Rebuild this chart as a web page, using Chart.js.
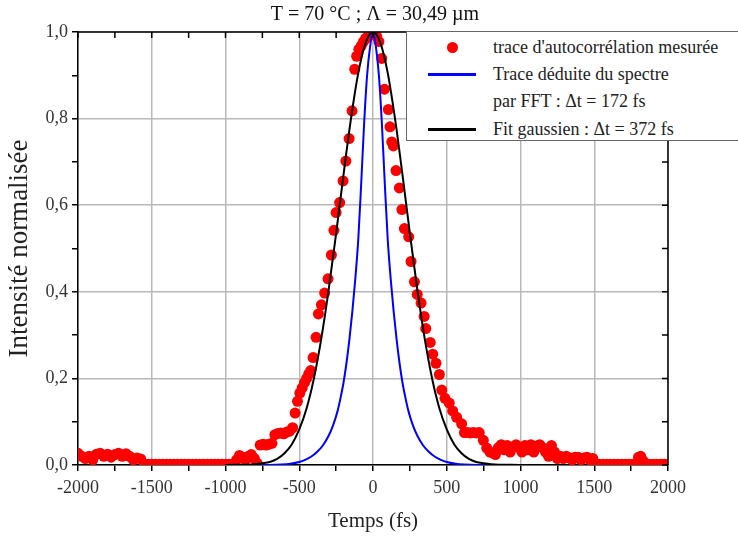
<!DOCTYPE html>
<html>
<head>
<meta charset="utf-8">
<script src="https://cdn.jsdelivr.net/npm/chart.js@4.4.1/dist/chart.umd.min.js"></script>
<style>
  body { margin: 0; background: #fff; }
  #wrap { position: relative; width: 738px; height: 540px; overflow: hidden; }
  #legend {
    position: absolute; left: 406px; top: 31px; width: 345px; height: 110px;
    background: #fff; border: 1px solid #666; box-sizing: border-box;
    font-family: "Liberation Serif", serif; font-size: 18px; color: #222;
  }
  #legend .row { position: absolute; left: 0; height: 24px; line-height: 24px; white-space: nowrap; }
  #legend .txt { position: absolute; left: 86px; }
  #legend .mk { position: absolute; }
</style>
</head>
<body>
<div id="wrap">
  <canvas id="chart" width="738" height="540"></canvas>
  <div id="legend"></div>
</div>
<script>
// mesures (points rouges)
const measTime = [
  -2000, -1975, -1950, -1925, -1900, -1875, -1850, -1825, -1800, -1775, -1750, -1725, -1700, -1675, -1650, -1625, -1600, -1575,
  -1550, -1525, -1500, -1475, -1450, -1425, -1400, -1375, -1350, -1325, -1300, -1275, -1250, -1225, -1200, -1175, -1150, -1125,
  -1100, -1075, -1050, -1025, -1000, -975, -950,
  -925, -905, -885, -865, -845, -825, -805, -785, -765, -745, -725, -705, -685, -665, -645, -625, -605, -585, -565, -545,
  -528, -512, -496, -480, -465, -450, -436, -422, -406, -386, -370, -350, -328, -305, -282, -265, -250, -226, -203, -184,
  -162, -142, -124, -111, -96, -80, -66, -50, -35, -20, -5,
  10, 25, 40, 59, 78, 104, 115, 127, 138, 156, 179, 196, 213, 242, 258, 281, 300, 326, 347, 358, 388, 405, 427, 450, 466,
  488, 517, 540, 567, 601, 620, 640, 660, 680, 700, 720, 748, 771, 793, 810,
  830, 850, 870, 890, 910, 930, 950, 970, 990, 1010, 1030, 1050, 1070, 1090, 1110, 1130, 1150, 1170, 1190, 1210, 1230,
  1250, 1270, 1290, 1310, 1330, 1350, 1370, 1390, 1410, 1430, 1450, 1470, 1490,
  1510, 1535, 1560, 1585, 1610, 1635, 1660, 1685, 1710, 1735, 1760, 1785, 1800, 1815, 1830, 1850, 1875, 1900, 1925, 1950,
  1975, 2000
];
const measIntensity = [
  0.027, 0.02, 0.015, 0.02, 0.012, 0.025, 0.027, 0.02, 0.025, 0.018, 0.024, 0.027, 0.02, 0.026, 0.02, 0.012, 0.016, 0.014,
  0.002, 0.002, 0.002, 0.002, 0.002, 0.002, 0.002, 0.002, 0.002, 0.002, 0.002, 0.002, 0.002, 0.002, 0.002, 0.002, 0.002, 0.002,
  0.002, 0.002, 0.002, 0.002, 0.002, 0.002, 0.002,
  0.012, 0.022, 0.018, 0.012, 0.02, 0.024, 0.015, 0.004, 0.046, 0.048, 0.046, 0.048, 0.05, 0.07, 0.073, 0.074, 0.072, 0.076, 0.078, 0.086,
  0.12, 0.147, 0.166, 0.178, 0.19, 0.2, 0.21, 0.218, 0.248, 0.295, 0.349, 0.37, 0.397, 0.43, 0.485, 0.542, 0.583, 0.606, 0.656, 0.702,
  0.754, 0.818, 0.914, 0.944, 0.96, 0.968, 0.977, 0.985, 0.99, 0.995, 1.0,
  0.997, 0.99, 0.978, 0.939, 0.868, 0.821, 0.781, 0.746, 0.737, 0.68, 0.64, 0.59, 0.546, 0.527, 0.47, 0.423, 0.394, 0.374, 0.343, 0.315, 0.283, 0.256, 0.235, 0.209, 0.173,
  0.154, 0.143, 0.125, 0.11, 0.095, 0.075, 0.075, 0.074, 0.075, 0.074, 0.075, 0.057, 0.039, 0.03, 0.028,
  0.024, 0.04, 0.047, 0.035, 0.045, 0.03, 0.042, 0.047, 0.04, 0.03, 0.045, 0.035, 0.047, 0.03, 0.044, 0.047, 0.04, 0.03, 0.02, 0.045, 0.03,
  0.015, 0.02, 0.015, 0.02, 0.017, 0.012, 0.018, 0.018, 0.012, 0.016, 0.018, 0.012, 0.015,
  0.002, 0.002, 0.002, 0.002, 0.002, 0.002, 0.002, 0.002, 0.002, 0.002, 0.002, 0.002, 0.018, 0.02, 0.01, 0.002, 0.002, 0.002, 0.002, 0.002,
  0.002, 0.002
];

// trace deduite du spectre (FFT)
const fftTime = [-800, -700, -620, -560, -500, -460, -420, -380, -340, -300, -270, -240, -220, -200, -180, -160, -140, -120, -100, -80, -60, -40, -20,
  0, 20, 40, 60, 80, 100, 120, 140, 160, 180, 200, 220, 240, 270, 300, 340, 380, 420, 460, 500, 560, 620, 700, 800];
const fftIntensity = [0, 0, 0.001, 0.003, 0.007, 0.012, 0.019, 0.03, 0.045, 0.068, 0.092, 0.125, 0.155, 0.19, 0.235, 0.29, 0.355, 0.43, 0.52, 0.65, 0.79, 0.9, 0.965,
  1.0, 0.965, 0.9, 0.79, 0.65, 0.52, 0.43, 0.355, 0.29, 0.235, 0.19, 0.155, 0.125, 0.092, 0.068, 0.045, 0.03, 0.019, 0.012, 0.007, 0.003, 0.001, 0, 0];

// fit gaussien
const fitTime = [-1000, -800, -750, -700, -650, -600, -550, -500, -450, -400, -350, -300, -250, -200, -150, -100, -50,
  0, 50, 100, 150, 200, 250, 300, 350, 400, 450, 500, 550, 600, 650, 700, 750, 800, 1000];
const fitIntensity = [0, 0.002, 0.004, 0.007, 0.014, 0.027, 0.048, 0.082, 0.131, 0.201, 0.293, 0.406, 0.535, 0.67, 0.798, 0.905, 0.975,
  1.0, 0.975, 0.905, 0.798, 0.67, 0.535, 0.406, 0.293, 0.201, 0.131, 0.082, 0.048, 0.027, 0.014, 0.007, 0.004, 0.002, 0];

const xTicks = { min: -2000, max: 2000, step: 250 };
const yTicks = { min: 0, max: 1, step: 0.1 };

const titleText = 'T = 70 °C ; Λ = 30,49 µm';
const serif = '"Liberation Serif", serif';

function pairs(xs, ys) {
  return xs.map((x, i) => ({ x: x, y: ys[i] }));
}

// cadre haut/droite avec graduations vers l'interieur + titre centre sur la zone de trace
const frameTicks = {
  id: 'frameTicks',
  afterDraw(chart) {
    const { ctx, chartArea: a, scales: { x, y } } = chart;
    ctx.save();
    ctx.strokeStyle = '#000';
    ctx.lineWidth = 1.5;
    ctx.beginPath();
    ctx.moveTo(a.left, a.top);
    ctx.lineTo(a.right, a.top);
    ctx.lineTo(a.right, a.bottom);
    y.ticks.forEach(t => {
      const py = y.getPixelForValue(t.value);
      ctx.moveTo(a.right, py);
      ctx.lineTo(a.right - 6, py);
    });
    x.ticks.forEach(t => {
      const px = x.getPixelForValue(t.value);
      ctx.moveTo(px, a.top);
      ctx.lineTo(px, a.top + 6);
    });
    ctx.stroke();

    ctx.fillStyle = '#111';
    ctx.font = '20px ' + serif;
    ctx.textAlign = 'center';
    ctx.textBaseline = 'middle';
    ctx.fillText(titleText, (a.left + a.right) / 2 + 2, 15);
    ctx.restore();
  }
};

const chart = new Chart(document.getElementById('chart'), {
  type: 'scatter',
  data: {
    datasets: [
      {
        label: "trace d'autocorrélation mesurée",
        data: pairs(measTime, measIntensity),
        pointRadius: 5.5,
        pointBackgroundColor: '#ff0000',
        pointBorderWidth: 0,
        borderColor: '#ff0000',
        clip: 0,
        order: 3
      },
      {
        label: ['Trace déduite du spectre', 'par FFT : Δt = 172 fs'],
        data: pairs(fftTime, fftIntensity),
        showLine: true,
        pointRadius: 0,
        borderColor: '#0000ff',
        borderWidth: 2,
        cubicInterpolationMode: 'monotone',
        order: 2
      },
      {
        label: 'Fit gaussien : Δt = 372 fs',
        data: pairs(fitTime, fitIntensity),
        showLine: true,
        pointRadius: 0,
        borderColor: '#000000',
        borderWidth: 2,
        cubicInterpolationMode: 'monotone',
        order: 1
      }
    ]
  },
  options: {
    responsive: false,
    animation: false,
    layout: { padding: { top: 32, right: 70 } },
    plugins: {
      legend: { display: false },
      tooltip: { enabled: false },
      title: { display: false }
    },
    scales: {
      x: {
        type: 'linear',
        min: xTicks.min,
        max: xTicks.max,
        afterFit: s => { s.height = 75; },
        border: { color: '#000', width: 1.5 },
        grid: {
          color: c => (c.tick && c.tick.value % 500 === 0) ? '#b8b8b8' : 'rgba(0,0,0,0)',
          lineWidth: 1.5,
          tickColor: '#000',
          tickLength: 6,
          tickWidth: 1.5
        },
        ticks: {
          stepSize: xTicks.step,
          autoSkip: false,
          maxRotation: 0,
          padding: 6,
          color: '#333',
          font: { family: serif, size: 18 },
          callback: v => (v % 500 === 0 ? String(v) : '')
        },
        title: {
          display: true,
          text: 'Temps (fs)',
          color: '#222',
          font: { family: serif, size: 21 },
          padding: { top: 0, bottom: 6 }
        }
      },
      y: {
        min: yTicks.min,
        max: yTicks.max,
        afterFit: s => { s.width = 78; },
        border: { color: '#000', width: 1.5 },
        grid: {
          color: c => (c.tick && Math.round(c.tick.value * 10) % 2 === 0) ? '#b8b8b8' : 'rgba(0,0,0,0)',
          lineWidth: 1.5,
          tickColor: '#000',
          tickLength: 6,
          tickWidth: 1.5
        },
        ticks: {
          stepSize: yTicks.step,
          autoSkip: false,
          padding: 4,
          color: '#333',
          font: { family: serif, size: 18 },
          callback: v => (Math.round(v * 10) % 2 === 0 ? v.toFixed(1).replace('.', ',') : '')
        },
        title: {
          display: true,
          text: 'Intensité normalisée',
          color: '#222',
          font: { family: serif, size: 27 },
          padding: { top: 4, bottom: 0 }
        }
      }
    }
  },
  plugins: [frameTicks]
});

// legende html construite depuis les jeux de donnees
const legendBox = document.getElementById('legend');
const rowTops = [[3], [30, 57], [85]];
chart.data.datasets.forEach((ds, i) => {
  const lines = Array.isArray(ds.label) ? ds.label : [ds.label];
  lines.forEach((line, j) => {
    const row = document.createElement('div');
    row.className = 'row';
    row.style.top = rowTops[i][j] + 'px';
    if (j === 0) {
      const mk = document.createElement('div');
      mk.className = 'mk';
      if (i === 0) {
        Object.assign(mk.style, { left: '40px', top: '7px', width: '11px', height: '11px', borderRadius: '50%', background: ds.pointBackgroundColor });
      } else {
        Object.assign(mk.style, { left: '21px', top: '11px', width: '48px', height: '2.5px', background: ds.borderColor });
      }
      row.appendChild(mk);
    }
    const txt = document.createElement('span');
    txt.className = 'txt';
    txt.textContent = line;
    row.appendChild(txt);
    legendBox.appendChild(row);
  });
});
</script>
</body>
</html>
